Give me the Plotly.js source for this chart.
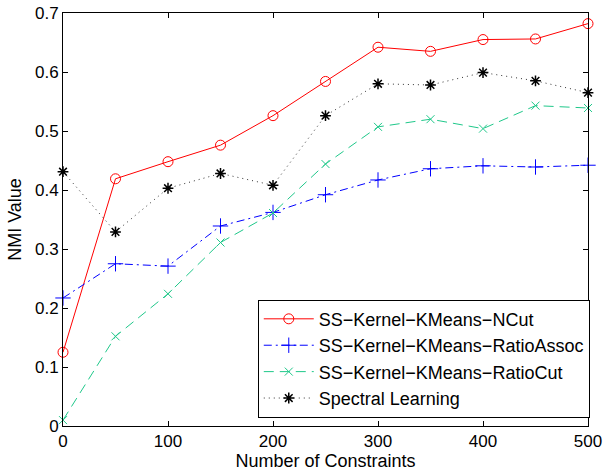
<!DOCTYPE html>
<html>
<head>
<meta charset="utf-8">
<script src="https://cdn.plot.ly/plotly-3.0.1.min.js"></script>
<style>
html,body{margin:0;padding:0;background:#fff;}
#chart{width:608px;height:473px;}
</style>
</head>
<body>
<div id="chart"></div>
<script>
var constraints = [0, 50, 100, 150, 200, 250, 300, 350, 400, 450, 500];
var ncut      = [0.125, 0.419, 0.448, 0.476, 0.526, 0.584, 0.642, 0.635, 0.655, 0.656, 0.682];
var ratioAssoc= [0.217, 0.275, 0.271, 0.339, 0.362, 0.392, 0.417, 0.436, 0.441, 0.439, 0.442];
var ratioCut  = [0.010, 0.152, 0.224, 0.311, 0.361, 0.444, 0.507, 0.520, 0.504, 0.543, 0.539];
var spectral  = [0.431, 0.329, 0.403, 0.428, 0.408, 0.526, 0.580, 0.578, 0.599, 0.585, 0.565];
var seriesNames = ['SS\u2212Kernel\u2212KMeans\u2212NCut', 'SS\u2212Kernel\u2212KMeans\u2212RatioAssoc', 'SS\u2212Kernel\u2212KMeans\u2212RatioCut', 'Spectral Learning'];
var xTicks = [0, 100, 200, 300, 400, 500];
var yTicks = [0, 0.1, 0.2, 0.3, 0.4, 0.5, 0.6, 0.7];

var FONT = 'Liberation Sans, Arial, Helvetica, sans-serif';

var traces = [
  {x: constraints, y: ncut, name: seriesNames[0], mode: 'lines+markers', cliponaxis: false,
   line: {color: '#ff0000', width: 1, dash: 'solid'},
   marker: {symbol: 'circle-open', size: 10, color: '#ff0000', line: {width: 1, color: '#ff0000'}}},
  {x: constraints, y: ratioAssoc, name: seriesNames[1], mode: 'lines+markers', cliponaxis: false,
   line: {color: '#0000ff', width: 1, dash: '8px,4px,2px,4px'},
   marker: {symbol: 'cross-thin-open', size: 11, color: '#0000ff', line: {width: 1, color: '#0000ff'}}},
  {x: constraints, y: ratioCut, name: seriesNames[2], mode: 'lines+markers', cliponaxis: false,
   line: {color: '#1fc88a', width: 1, dash: '10px,6px'},
   marker: {symbol: 'x-thin-open', size: 8, color: '#1fc88a', line: {width: 1, color: '#1fc88a'}}},
  {x: constraints, y: spectral, name: seriesNames[3], mode: 'lines+markers', cliponaxis: false,
   line: {color: '#333333', width: 1, dash: '1px,4px'},
   marker: {symbol: 'asterisk-open', size: 9, color: '#000000', line: {width: 1.5, color: '#000000'}}}
];

var layout = {
  width: 608, height: 473,
  margin: {l: 63, r: 20, t: 13, b: 47, pad: 0},
  paper_bgcolor: '#fff', plot_bgcolor: '#fff',
  font: {family: FONT, size: 17, color: '#000'},
  showlegend: true,
  legend: {
    x: 0.371, y: 0.306, xanchor: 'left', yanchor: 'top',
    bgcolor: '#fff', bordercolor: '#000', borderwidth: 1,
    font: {family: FONT, size: 18, color: '#000'},
    itemwidth: 50, tracegroupgap: 0
  },
  xaxis: {
    range: [0, 500], tickvals: xTicks, ticktext: xTicks.map(String),
    ticks: 'inside', ticklen: 5, tickwidth: 1, tickcolor: '#000',
    showline: true, linecolor: '#000', linewidth: 1, mirror: 'ticks',
    showgrid: false, zeroline: false, automargin: false,
    tickfont: {family: FONT, size: 17, color: '#000'},
    title: {text: 'Number of Constraints', font: {family: FONT, size: 18, color: '#000'}, standoff: 2}
  },
  yaxis: {
    range: [0, 0.7], tickvals: yTicks, ticktext: yTicks.map(String),
    ticks: 'inside', ticklen: 5, tickwidth: 1, tickcolor: '#000',
    showline: true, linecolor: '#000', linewidth: 1, mirror: 'ticks',
    showgrid: false, zeroline: false, automargin: false,
    tickfont: {family: FONT, size: 17, color: '#000'},
    title: {text: 'NMI Value', font: {family: FONT, size: 18, color: '#000'}, standoff: 8}
  }
};

Plotly.newPlot('chart', traces, layout, {displayModeBar: false, staticPlot: true});
</script>
</body>
</html>
